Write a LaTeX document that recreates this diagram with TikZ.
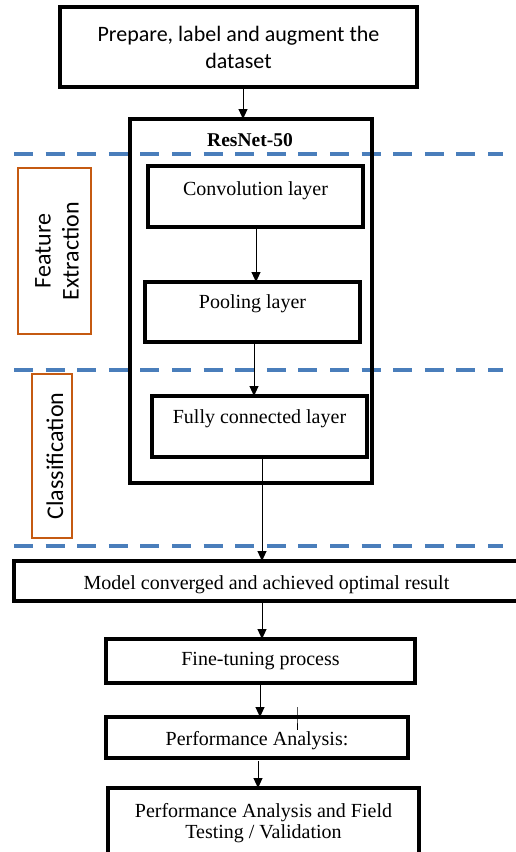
\documentclass[tikz,border=0pt]{standalone}
\usepackage{fontspec}
\setmainfont{Liberation Serif}
\newfontfamily\calibrifont{Carlito}
\usetikzlibrary{arrows.meta}
\definecolor{phaseblue}{HTML}{4A7EBB}
\definecolor{phaseorange}{HTML}{C55A11}
\tikzset{
  box/.style={draw=black, line width=3.2pt, inner sep=0pt, outer sep=0pt,
    font=\fontsize{20}{24}\selectfont},
  phasebox/.style={draw=phaseorange, line width=1.6pt, inner sep=0pt, outer sep=0pt},
  phasetext/.style={font=\calibrifont\fontsize{24}{28}\selectfont, rotate=90, align=center},
  flow/.style={-{Triangle[width=9pt,length=10pt]}, line width=0.9pt},
  divider/.style={draw=phaseblue, line width=3.8pt, dash pattern=on 19pt off 12.6pt},
}
\begin{document}
\begin{tikzpicture}[x=1pt,y=-1pt]
\useasboundingbox (0,0) rectangle (515,852);

% phase dividers
\draw[divider] (14,154) -- (503,154);
\draw[divider] (14,370) -- (503,370);
\draw[divider] (14,546) -- (503,546);

% phase labels
\node[phasebox, minimum width=73, minimum height=166] (fe) at (54.5,251) {};
\node[phasetext] (fetext) at (57,251) {Feature\\Extraction};
\node[phasebox, minimum width=40, minimum height=164] (cl) at (52,456) {};
\node[phasetext] (cltext) at (55,456) {Classification};

% dataset preparation
\node[box, minimum width=357, minimum height=80, align=center,
      font=\calibrifont\fontsize{22}{27}\selectfont] (prep) at (238.5,47)
      {Prepare, label and augment the\\dataset};

% ResNet-50 container
\node[box, minimum width=242, minimum height=364] (resnet) at (251,301) {};
\node[font=\bfseries\fontsize{19.5}{24}\selectfont, anchor=base] (rntitle) at (250,146) {ResNet-50};

% layers
\node[box, anchor=north west, minimum width=215, text height=29, text depth=32] (conv) at (148,166) {Convolution layer};
\node[box, anchor=north west, minimum width=215, text height=26, text depth=34] (pool) at (145,282) {Pooling layer};
\node[box, anchor=north west, minimum width=215, text height=27, text depth=34] (fc) at (152,396) {Fully connected layer};

% post-training steps
\node[box, anchor=north west, minimum width=505, text height=28, text depth=12] (model) at (14,561) {Model converged and achieved optimal result};
\node[box, anchor=north west, minimum width=309, text height=26, text depth=18] (fine) at (106,639) {Fine-tuning process};
\node[box, anchor=north west, minimum width=302, text height=28, text depth=13] (perf) at (106,717) {Performance Analysis:};
\node[box, minimum width=311, minimum height=70, align=center, font=\fontsize{20}{21}\selectfont] (final) at (263.5,823)
      {Performance Analysis and Field\\Testing / Validation};

% connectors
\draw[flow] ([xshift=4.5pt]prep.south) -- ([xshift=4.5pt]prep.south |- resnet.north);
\draw[flow] ([xshift=0.5pt]conv.south) -- ([xshift=0.5pt]conv.south |- pool.north);
\draw[flow] ([xshift=1.5pt]pool.south) -- ([xshift=1.5pt]pool.south |- fc.north);
\draw[flow] ([xshift=2.5pt]fc.south) -- ([xshift=2.5pt]fc.south |- model.north);
\draw[flow] ([xshift=1.5pt]fine.north |- model.south) -- ([xshift=1.5pt]fine.north);
\draw[flow] ([xshift=-0.5pt]fine.south) -- ([xshift=-0.5pt]fine.south |- perf.north);
\draw[flow] ([xshift=1pt,yshift=-3pt]perf.south) -- ([xshift=1pt]perf.south |- final.north);

% stray tick across the top edge of the analysis box
\coordinate (tick) at (297,707);
\draw[line width=0.7pt] (tick) -- (tick |- perf.north) -- ++(0,13);
\end{tikzpicture}
\end{document}
